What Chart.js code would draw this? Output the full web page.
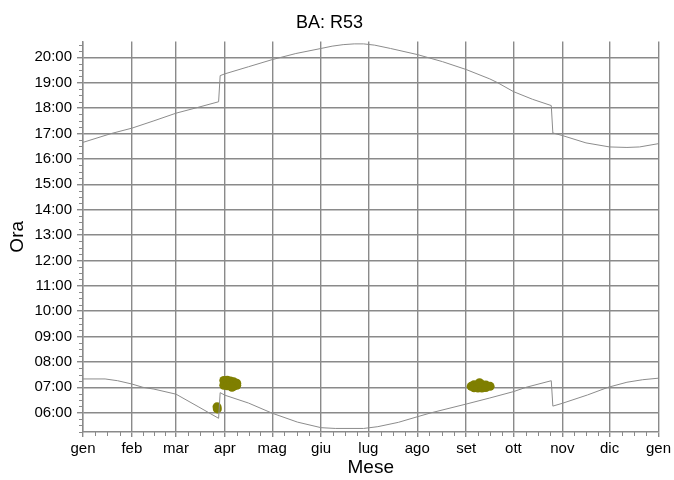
<!DOCTYPE html>
<html>
<head>
<meta charset="utf-8">
<script src="https://cdn.jsdelivr.net/npm/chart.js@4.4.1/dist/chart.umd.min.js"></script>
<style>
  html, body { margin: 0; padding: 0; background: #fff; }
  canvas { display: block; }
</style>
</head>
<body>
<canvas id="chart" width="674" height="480"></canvas>
<script>
// Month labels and the day of year where each month starts
const months = ["gen", "feb", "mar", "apr", "mag", "giu", "lug", "ago", "set", "ott", "nov", "dic", "gen"];
const monthStart = [0, 31, 59, 90, 120, 151, 181, 212, 243, 273, 304, 334, 365];

// Hour ticks on the y axis
const hourTicks = [6, 7, 8, 9, 10, 11, 12, 13, 14, 15, 16, 17, 18, 19, 20];

// Sunset (upper curve), local time in hours
const sunsetDay  = [0, 18, 31, 45, 59, 73, 86, 87, 90, 105, 120, 135, 151, 158, 165, 172, 178, 185, 195, 212, 220, 228, 243, 258, 263, 273, 285, 297, 298, 304, 319, 334, 345, 353, 365];
const sunsetHour = [16.65, 17.0, 17.21, 17.5, 17.8, 18.03, 18.25, 19.28, 19.35, 19.63, 19.91, 20.15, 20.35, 20.44, 20.5, 20.53, 20.53, 20.48, 20.35, 20.11, 19.97, 19.83, 19.52, 19.15, 19.0, 18.65, 18.35, 18.1, 17.02, 16.92, 16.63, 16.47, 16.45, 16.47, 16.6];

// Sunrise (lower curve), local time in hours
const sunriseDay  = [0, 14, 22, 31, 38, 45, 59, 73, 86, 87, 90, 105, 120, 136, 151, 160, 178, 187, 200, 212, 221, 243, 258, 273, 281, 297, 298, 304, 320, 333, 345, 355, 365];
const sunriseHour = [7.33, 7.33, 7.26, 7.13, 7.0, 6.93, 6.73, 6.24, 5.78, 6.79, 6.69, 6.38, 5.98, 5.63, 5.41, 5.38, 5.38, 5.45, 5.62, 5.84, 6.0, 6.34, 6.58, 6.83, 7.0, 7.26, 6.26, 6.37, 6.7, 7.0, 7.2, 7.3, 7.36];

// Reflection (glare) occurrences
const glareDay  = [89.3, 89.3, 91.5, 91.5, 93.5, 93.5, 95.5, 95.5, 97.5, 97.5, 94.5, 85.0, 85.2,
                   246.2, 248, 248, 250.5, 250.5, 253, 253, 255.5, 255.5, 258.2, 251.5];
const glareHour = [7.27, 7.08, 7.28, 7.06, 7.25, 7.05, 7.22, 7.04, 7.16, 7.08, 7.0, 6.23, 6.15,
                   7.04, 7.1, 6.98, 7.11, 6.97, 7.11, 6.97, 7.09, 6.99, 7.04, 7.18];

const gridColor = "#8a8a8a";
const lineColor = "#8c8c8c";
const olive = "#7f7f00";
const fontFamily = "'Liberation Sans', Arial, sans-serif";

function toPoints(xs, ys) {
    return xs.map((d, i) => ({ x: d, y: ys[i] }));
}

function formatHour(v) {
    return (v < 10 ? "0" + v : "" + v) + ":00";
}

// Small ticks between months (quarters) and between hours (15 min)
const minorTicks = {
    id: "minorTicks",
    afterDraw(chart) {
        const { ctx, chartArea: a } = chart;
        const x = chart.scales.x, y = chart.scales.y;
        ctx.save();
        ctx.strokeStyle = gridColor;
        ctx.lineWidth = 1;
        ctx.beginPath();
        for (let i = 0; i < monthStart.length - 1; i++) {
            for (let k = 1; k < 4; k++) {
                const px = Math.round(x.getPixelForValue(monthStart[i] + (monthStart[i + 1] - monthStart[i]) * k / 4)) + 0.5;
                ctx.moveTo(px, a.bottom);
                ctx.lineTo(px, a.bottom + 4);
            }
        }
        for (let q = Math.ceil(y.min * 4); q <= y.max * 4; q++) {
            if (q % 4 === 0) continue;
            const py = Math.round(y.getPixelForValue(q / 4)) + 0.5;
            ctx.moveTo(a.left - 4, py);
            ctx.lineTo(a.left, py);
        }
        ctx.stroke();
        ctx.restore();
    }
};

const ctx = document.getElementById("chart").getContext("2d");
new Chart(ctx, {
    type: "scatter",
    data: {
        datasets: [
            {
                label: "tramonto",
                data: toPoints(sunsetDay, sunsetHour),
                showLine: true,
                borderColor: lineColor,
                borderWidth: 1,
                pointRadius: 0,
                tension: 0
            },
            {
                label: "alba",
                data: toPoints(sunriseDay, sunriseHour),
                showLine: true,
                borderColor: lineColor,
                borderWidth: 1,
                pointRadius: 0,
                tension: 0
            },
            {
                label: "riflesso",
                data: toPoints(glareDay, glareHour),
                showLine: false,
                backgroundColor: olive,
                borderColor: olive,
                borderWidth: 0,
                pointRadius: 4.5
            }
        ]
    },
    options: {
        responsive: false,
        animation: false,
        layout: { padding: { left: 0, right: 15, top: 0, bottom: 0 } },
        plugins: {
            legend: { display: false },
            tooltip: { enabled: false },
            title: {
                display: true,
                text: "BA: R53",
                color: "#000",
                font: { family: fontFamily, size: 18, weight: "normal" },
                padding: { top: 12, bottom: 8 }
            }
        },
        scales: {
            x: {
                type: "linear",
                min: 0,
                max: 365,
                afterBuildTicks: s => { s.ticks = monthStart.map(v => ({ value: v })); },
                afterFit: s => { s.height = 48; },
                ticks: {
                    autoSkip: false,
                    maxRotation: 0,
                    color: "#000",
                    padding: 3,
                    font: { family: fontFamily, size: 15 },
                    callback: (v, i) => months[i]
                },
                grid: { color: gridColor, lineWidth: 1.4, tickLength: 5 },
                border: { color: gridColor, width: 1.4 },
                title: {
                    display: true,
                    text: "Mese",
                    color: "#000",
                    font: { family: fontFamily, size: 19 },
                    padding: { top: 0, bottom: 1 }
                }
            },
            y: {
                min: 5.24,
                max: 20.62,
                afterBuildTicks: s => { s.ticks = hourTicks.map(v => ({ value: v })); },
                afterFit: s => { s.width = 83; },
                ticks: {
                    color: "#000",
                    padding: 5,
                    font: { family: fontFamily, size: 15 },
                    callback: v => formatHour(v)
                },
                grid: { color: gridColor, lineWidth: 1.4, tickLength: 6 },
                border: { color: gridColor, width: 1.4 },
                title: {
                    display: true,
                    text: "Ora",
                    color: "#000",
                    font: { family: fontFamily, size: 19 },
                    padding: { top: 6, bottom: 0 }
                }
            }
        }
    },
    plugins: [minorTicks]
});
</script>
</body>
</html>
